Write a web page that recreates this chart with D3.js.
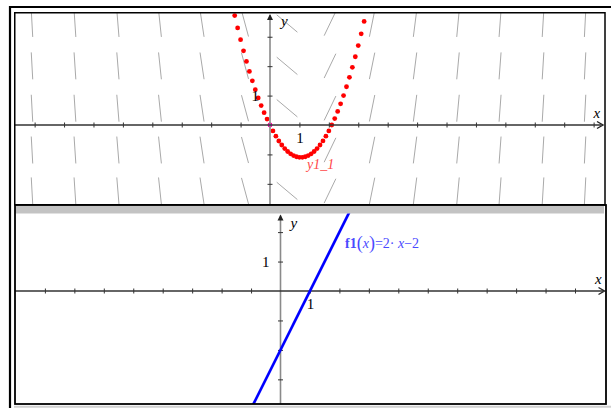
<!DOCTYPE html>
<html>
<head>
<meta charset="utf-8">
<script src="https://cdn.jsdelivr.net/npm/d3@7"></script>
<style>
  html, body { margin: 0; padding: 0; background: #fff; overflow: hidden; }
  svg { display: block; }
</style>
</head>
<body>
<svg id="chart" width="611" height="408"></svg>
<script>
// Slope field for dy/dx = f1(x): grid columns (x), rows (y) and the slope in each column
const fieldX = [-8.09, -6.63, -5.17, -3.74, -2.31, -0.85, 0.58, 2.04, 3.47, 4.93, 6.39, 7.82, 9.28, 10.71];
const fieldSlope = [-18.18, -15.26, -12.34, -9.48, -6.62, -3.70, -0.84, 2.08, 4.94, 7.86, 10.78, 13.64, 16.56, 19.42];
const fieldY = [3.45, 2.01, 0.57, -0.85, -2.24];

// Solution y1_1 through the initial point (0,0), step 0.1
const solX = [-1.2, -1.1, -1.0, -0.9, -0.8, -0.7, -0.6, -0.5, -0.4, -0.3, -0.2, -0.1,
  0, 0.1, 0.2, 0.3, 0.4, 0.5, 0.6, 0.7, 0.8, 0.9, 1.0, 1.1, 1.2, 1.3, 1.4, 1.5, 1.6,
  1.7, 1.8, 1.9, 2.0, 2.1, 2.2, 2.3, 2.4, 2.5, 2.6, 2.7, 2.8, 2.9, 3.0, 3.1, 3.2];
const solY = [3.72, 3.30, 2.90, 2.52, 2.16, 1.82, 1.50, 1.20, 0.92, 0.66, 0.42, 0.20,
  0, -0.20, -0.38, -0.54, -0.68, -0.80, -0.90, -0.98, -1.04, -1.08, -1.10, -1.10, -1.08,
  -1.04, -0.98, -0.90, -0.80, -0.68, -0.54, -0.38, -0.20, 0, 0.22, 0.46, 0.72, 1.00,
  1.30, 1.62, 1.96, 2.32, 2.70, 3.10, 3.52];
const initPoint = [0, 0];

// f1(x) = 2·x − 2, drawn between two points
const lineX = [-1.0, 2.4];
const lineY = [-4.0, 2.8];

// Axis ticks
const topXTicks = [-8, -7, -6, -5, -4, -3, -2, -1, 1, 2, 3, 4, 5, 6, 7, 8, 9, 10, 11];
const topYTicks = [-2, -1, 1, 2, 3];
const botXTicks = [-8, -7, -6, -5, -4, -3, -2, -1, 1, 2, 3, 4, 5, 6, 7, 8, 9, 10];
const botYTicks = [-3, -2, -1, 1, 2];
const tickLabel = d => (d === 1 ? "1" : "");

const svg = d3.select("#chart");
const serif = "'Liberation Serif', 'DejaVu Serif', serif";

// ---------- outer frame ----------
svg.append("line").attr("x1", 9).attr("x2", 611).attr("y1", 7).attr("y2", 7)
  .attr("stroke", "#000").attr("stroke-width", 2.2);
svg.append("line").attr("x1", 10).attr("x2", 10).attr("y1", 6).attr("y2", 408)
  .attr("stroke", "#000").attr("stroke-width", 2.2);

// ---------- panel geometry ----------
const topP = { x0: 15, x1: 604.5, y0: 13, y1: 204.5, ox: 270, oy: 125, unit: 29.42 };
const botP = { x0: 15, x1: 606, y0: 213.5, y1: 404, ox: 280.5, oy: 291, unit: 29.45 };

function scalesFor(p) {
  const x = d3.scaleLinear()
    .domain([(p.x0 - p.ox) / p.unit, (p.x1 - p.ox) / p.unit]).range([p.x0, p.x1]);
  const y = d3.scaleLinear()
    .domain([(p.oy - p.y1) / p.unit, (p.oy - p.y0) / p.unit]).range([p.y1, p.y0]);
  return { x, y };
}
const ts = scalesFor(topP);
const bs = scalesFor(botP);

// clip paths
const defs = svg.append("defs");
defs.append("clipPath").attr("id", "clipTop").append("rect")
  .attr("x", topP.x0).attr("y", topP.y0).attr("width", topP.x1 - topP.x0).attr("height", topP.y1 - topP.y0);
defs.append("clipPath").attr("id", "clipBot").append("rect")
  .attr("x", botP.x0).attr("y", botP.y0).attr("width", botP.x1 - botP.x0).attr("height", botP.y1 - botP.y0);

// ---------- top panel: slope field ----------
const gTop = svg.append("g").attr("clip-path", "url(#clipTop)");
const segLen = 27;
const cells = [];
fieldX.forEach((fx, i) => fieldY.forEach(fy => cells.push({ x: fx, y: fy, m: fieldSlope[i] })));
gTop.append("g").selectAll("line").data(cells).join("line")
  .attr("x1", d => ts.x(d.x) - (segLen / 2) / Math.hypot(1, d.m))
  .attr("x2", d => ts.x(d.x) + (segLen / 2) / Math.hypot(1, d.m))
  .attr("y1", d => ts.y(d.y) + (segLen / 2) * d.m / Math.hypot(1, d.m))
  .attr("y2", d => ts.y(d.y) - (segLen / 2) * d.m / Math.hypot(1, d.m))
  .attr("stroke", "#a9a9a9").attr("stroke-width", 1);

// axes with ticks, arrowheads and the x name
function drawAxes(g, s, p, xt, yt, yAxisColor) {
  g.append("line").attr("x1", s.x(0)).attr("x2", s.x(0)).attr("y1", p.y0 + 2).attr("y2", p.y1)
    .attr("stroke", yAxisColor).attr("stroke-width", 1.6);
  const ax = g.append("g").attr("transform", `translate(0,${s.y(0)})`)
    .call(d3.axisBottom(s.x).tickValues(xt).tickSize(2.5).tickPadding(4.5).tickFormat(tickLabel));
  ax.select(".domain").remove();
  ax.selectAll(".tick line").attr("y1", -2.5).attr("y2", 2.5).attr("stroke", "#333");
  ax.selectAll(".tick text").attr("font-family", serif).attr("font-size", 15).attr("fill", "#000");
  g.append("line").attr("x1", p.x0).attr("x2", p.x1 - 3).attr("y1", s.y(0)).attr("y2", s.y(0))
    .attr("stroke", "#333").attr("stroke-width", 1.3);
  const ay = g.append("g").attr("transform", `translate(${s.x(0)},0)`)
    .call(d3.axisLeft(s.y).tickValues(yt).tickSize(2.5).tickPadding(8.5).tickFormat(tickLabel));
  ay.select(".domain").remove();
  ay.selectAll(".tick line").attr("x1", -2.5).attr("x2", 2.5).attr("stroke", "#333");
  ay.selectAll(".tick text").attr("font-family", serif).attr("font-size", 15).attr("fill", "#000");
  const xe = p.x1 - 1.5, ye = s.y(0);
  g.append("path").attr("d", `M${xe - 6},${ye - 3.5} L${xe},${ye} L${xe - 6},${ye + 3.5}`)
    .attr("fill", "none").attr("stroke", "#222").attr("stroke-width", 1.4);
  const xa = s.x(0), ya = p.y0 + 1;
  g.append("path").attr("d", `M${xa - 3},${ya + 6} L${xa},${ya} L${xa + 3},${ya + 6} Z`)
    .attr("fill", "#222");
  g.append("text").attr("x", p.x1 - 11).attr("y", s.y(0) - 7).text("x")
    .attr("font-family", serif).attr("font-style", "italic").attr("font-size", 15).attr("fill", "#000");
}
drawAxes(svg.append("g"), ts, topP, topXTicks, topYTicks, "#8a8a8a");
svg.append("text").attr("x", 281).attr("y", 26).text("y")
  .attr("font-family", serif).attr("font-style", "italic").attr("font-size", 15).attr("fill", "#000");

// solution dots
const solution = solX.map((x, i) => ({ x, y: solY[i] }));
gTop.append("g").selectAll("circle").data(solution).join("circle")
  .attr("cx", d => ts.x(d.x)).attr("cy", d => ts.y(d.y)).attr("r", 2.4).attr("fill", "#ff0000");
gTop.append("circle").attr("cx", ts.x(initPoint[0])).attr("cy", ts.y(initPoint[1]))
  .attr("r", 2.2).attr("fill", "#ff00ff");
svg.append("text").attr("x", 307).attr("y", 169).text("y1_1")
  .attr("font-family", serif).attr("font-style", "italic").attr("font-size", 14).attr("fill", "#ff4a4a");

// top panel border
svg.append("rect").attr("x", 14.75).attr("y", 12.75).attr("width", 590.25).attr("height", 192)
  .attr("fill", "none").attr("stroke", "#000").attr("stroke-width", 1.5);

// divider band
svg.append("rect").attr("x", 15.5).attr("y", 205.5).attr("width", 588.5).attr("height", 8)
  .attr("fill", "#c3c3c3");

// ---------- bottom panel ----------
const gBot = svg.append("g");
drawAxes(gBot, bs, botP, botXTicks, botYTicks, "#8a8a8a");
svg.append("text").attr("x", 290.5).attr("y", 228).text("y")
  .attr("font-family", serif).attr("font-style", "italic").attr("font-size", 15).attr("fill", "#000");

const linePts = lineX.map((x, i) => [x, lineY[i]]);
svg.append("g").attr("clip-path", "url(#clipBot)").append("path")
  .attr("d", d3.line().x(d => bs.x(d[0])).y(d => bs.y(d[1]))(linePts))
  .attr("fill", "none").attr("stroke", "#0000ff").attr("stroke-width", 2.7);

// function label
const lbl = svg.append("text").attr("x", 345).attr("y", 247.5)
  .attr("font-family", serif).attr("font-size", 14).attr("fill", "#4a4aff");
lbl.append("tspan").attr("font-weight", "bold").text("f1");
lbl.append("tspan").attr("font-size", 18).attr("dy", 1).text("(");
lbl.append("tspan").attr("font-style", "italic").attr("dy", -1).text("x");
lbl.append("tspan").attr("font-size", 18).attr("dy", 1).text(")");
lbl.append("tspan").attr("dy", -1).text("=2· ");
lbl.append("tspan").attr("font-style", "italic").text("x");
lbl.append("tspan").text("−2");

// bottom panel border
svg.append("rect").attr("x", 15).attr("y", 205).attr("width", 591).attr("height", 199)
  .attr("fill", "none").attr("stroke", "#000").attr("stroke-width", 1.8);
svg.append("line").attr("x1", 14).attr("x2", 611).attr("y1", 406.8).attr("y2", 406.8)
  .attr("stroke", "#d0d0d0").attr("stroke-width", 2);
</script>
</body>
</html>
